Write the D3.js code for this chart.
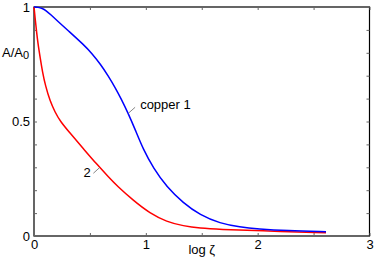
<!DOCTYPE html>
<html><head><meta charset="utf-8">
<script src="https://cdn.jsdelivr.net/npm/d3@7"></script>
<style>
html,body{margin:0;padding:0;background:#fff;}
svg{display:block;font-family:"Liberation Sans",Arial,Helvetica,sans-serif;}
</style></head>
<body><svg id="c" width="374" height="260"></svg>
<script>
// log zeta values and normalised amplitude for the two curves
const copperX = [0,0.036,0.074,0.107,0.149,0.215,0.298,0.447,0.519,0.596,0.662,0.731,0.778,0.843,0.903,0.977,1.067,1.187,1.335,1.484,1.663,1.842,2.003,2.262,2.611];
const copperY = [1,0.999,0.994,0.985,0.967,0.937,0.900,0.834,0.797,0.749,0.701,0.644,0.600,0.535,0.467,0.378,0.297,0.214,0.144,0.092,0.055,0.039,0.031,0.023,0.019];
const curve2X = [0,0.009,0.021,0.036,0.056,0.076,0.103,0.143,0.188,0.233,0.328,0.447,0.566,0.671,0.740,0.888,1.037,1.187,1.335,1.484,1.663,2.003,2.611];
const curve2Y = [1,0.956,0.900,0.838,0.777,0.716,0.655,0.590,0.541,0.502,0.446,0.378,0.311,0.255,0.220,0.155,0.099,0.062,0.044,0.034,0.029,0.023,0.014];

const xTicks = [0,0.5,1,1.5,2,2.5,3];
const xTickLabels = ["0","","1","","2","","3"];
const yTicks = [0,0.1,0.2,0.3,0.4,0.5,0.6,0.7,0.8,0.9,1];
const yTickLabels = ["0","","","","","0.5","","","","","1"];

const svg = d3.select("#c");
const x = d3.scaleLinear().domain([0,3]).range([34,369.5]);
const y = d3.scaleLinear().domain([0,1]).range([236,7]);

const fs = 13;
// frame
svg.append("rect").attr("x",x(0)).attr("y",y(1)).attr("width",x(3)-x(0)).attr("height",y(0)-y(1))
  .attr("fill","none").attr("stroke","#000").attr("stroke-width",1.2);

function styleAxis(g){
  g.select(".domain").remove();
  g.selectAll(".tick line").attr("stroke","#666").attr("stroke-width",1);
  g.selectAll("text").attr("font-size",fs).attr("font-family","Liberation Sans, Arial, sans-serif").attr("fill","#000");
}
svg.append("g").attr("transform",`translate(0,${y(0)})`)
  .call(d3.axisBottom(x).tickValues(xTicks).tickSizeInner(-3).tickSizeOuter(0).tickPadding(4)
    .tickFormat((d,i)=>xTickLabels[i])).call(styleAxis);
svg.append("g").attr("transform",`translate(0,${y(1)})`)
  .call(d3.axisTop(x).tickValues(xTicks).tickSizeInner(-3).tickSizeOuter(0).tickFormat("")).call(styleAxis);
svg.append("g").attr("transform",`translate(${x(0)},0)`)
  .call(d3.axisLeft(y).tickValues(yTicks.filter(v=>v!==0.8)).tickSizeInner(-3).tickSizeOuter(0).tickPadding(4)
    .tickFormat(v=>yTickLabels[yTicks.indexOf(v)])).call(styleAxis);
svg.append("g").attr("transform",`translate(${x(3)},0)`)
  .call(d3.axisRight(y).tickValues(yTicks).tickSizeInner(-3).tickSizeOuter(0).tickFormat("")).call(styleAxis);

// curves
const line = d3.line().x(d=>x(d[0])).y(d=>y(d[1])).curve(d3.curveBasis);
svg.append("path").datum(curve2X.map((v,i)=>[v,curve2Y[i]]))
  .attr("d",line).attr("fill","none").attr("stroke","#ff0000").attr("stroke-width",1.5);
svg.append("path").datum(copperX.map((v,i)=>[v,copperY[i]]))
  .attr("d",line).attr("fill","none").attr("stroke","#0000ff").attr("stroke-width",1.5);

// annotations
svg.append("line").attr("x1",x(0.844)).attr("y1",y(0.536)).attr("x2",x(0.904)).attr("y2",y(0.562))
  .attr("stroke","#666").attr("stroke-width",0.8);
svg.append("text").attr("x",x(0.949)).attr("y",y(0.553)).attr("font-size",fs).text("copper 1");
svg.append("line").attr("x1",x(0.531)).attr("y1",y(0.274)).attr("x2",x(0.585)).attr("y2",y(0.298))
  .attr("stroke","#666").attr("stroke-width",0.8);
svg.append("text").attr("x",x(0.508)).attr("y",y(0.258)).attr("text-anchor","end").attr("font-size",fs).text("2");

// axis titles
svg.append("text").attr("x",(x(0)+x(3))/2).attr("y",254).attr("text-anchor","middle").attr("font-size",fs).text("log ζ");
const yl = svg.append("text").attr("x",2).attr("y",57).attr("font-size",fs);
yl.append("tspan").text("A/A");
yl.append("tspan").attr("dy",2).attr("font-size",11).text("0");
</script></body></html>
